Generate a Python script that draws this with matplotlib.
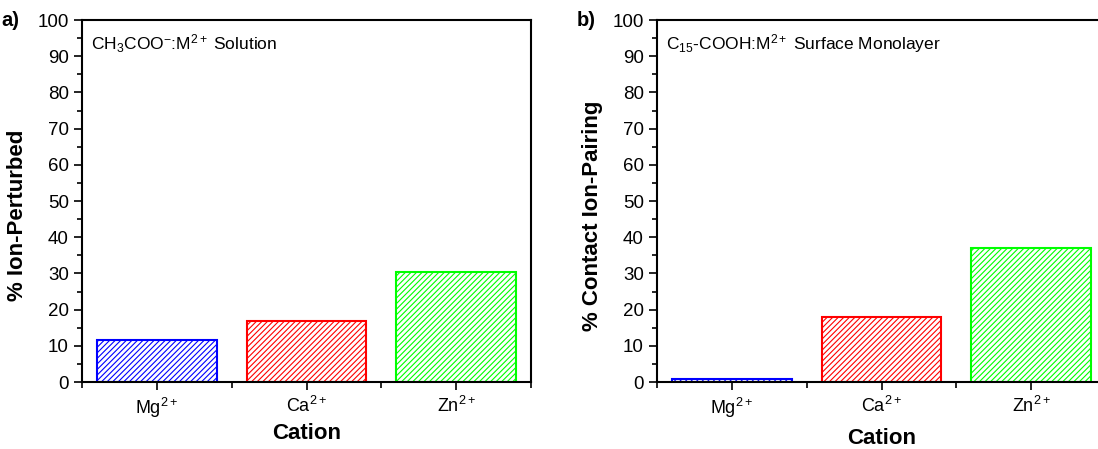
import numpy as np
import matplotlib
matplotlib.use("Agg")
import matplotlib.pyplot as plt
from matplotlib.ticker import MultipleLocator, FixedLocator

plt.rcParams['font.family'] = ['Liberation Sans', 'DejaVu Sans']
plt.rcParams['mathtext.fontset'] = 'custom'
plt.rcParams['mathtext.rm'] = 'Liberation Sans'
plt.rcParams['mathtext.it'] = 'Liberation Sans:italic'
plt.rcParams['mathtext.bf'] = 'Liberation Sans:bold'
plt.rcParams['mathtext.default'] = 'regular'
plt.rcParams['hatch.linewidth'] = 0.8

cations = ['Mg$^{2+}$', 'Ca$^{2+}$', 'Zn$^{2+}$']
colors = ['#0000ff', '#ff0000', '#00ff00']
solution_pct = [11.6, 16.9, 30.4]
monolayer_pct = [0.8, 18.0, 37.0]

fig = plt.figure(figsize=(10.98, 4.49), dpi=100)
ax1 = fig.add_axes([0.0747, 0.1492, 0.4089, 0.8062])
ax2 = fig.add_axes([0.5984, 0.1492, 0.4089, 0.8062])

def panel(ax, vals, ylabel, note, tag, xpad):
    x = np.arange(len(vals))
    for xi, v, c in zip(x, vals, colors):
        ax.bar(xi, v, width=0.8, facecolor='white', edgecolor=c,
               hatch='//////', linewidth=1.5)
    ax.set_xlim(-0.5, 2.5)
    ax.set_ylim(0, 100)
    ax.set_xticks(x)
    ax.set_xticklabels(cations, fontsize=13)
    ax.xaxis.set_minor_locator(FixedLocator([-0.5, 0.5, 1.5, 2.5]))
    ax.yaxis.set_major_locator(MultipleLocator(10))
    ax.yaxis.set_minor_locator(MultipleLocator(5))
    ax.tick_params(axis='y', which='major', direction='out', length=6, width=1.2, labelsize=13.5)
    ax.tick_params(axis='y', which='minor', direction='out', length=3.5, width=1.2)
    ax.tick_params(axis='x', which='major', direction='out', length=6, width=1.2, pad=4)
    ax.tick_params(axis='x', which='minor', direction='out', length=4, width=1.2)
    for s in ax.spines.values():
        s.set_linewidth(1.5)
    ax.set_ylabel(ylabel, fontsize=16, fontweight='bold')
    ax.yaxis.set_label_coords(-0.12, 0.46)
    ax.set_xlabel('Cation', fontsize=16, fontweight='bold', labelpad=xpad)
    ax.text(0.02, 0.935, note, transform=ax.transAxes, fontsize=12.5,
            va='center', ha='left')
    ax.text(-0.18, 1.0, tag, transform=ax.transAxes, fontsize=14.5,
            fontweight='bold', va='center', ha='left')

panel(ax1, solution_pct, '% Ion-Perturbed',
      'CH$_3$COO$^{-}$:M$^{2+}$ Solution', 'a)', 2)
panel(ax2, monolayer_pct, '% Contact Ion-Pairing',
      'C$_{15}$-COOH:M$^{2+}$ Surface Monolayer', 'b)', 6)

fig.savefig('out.png', dpi=100)
